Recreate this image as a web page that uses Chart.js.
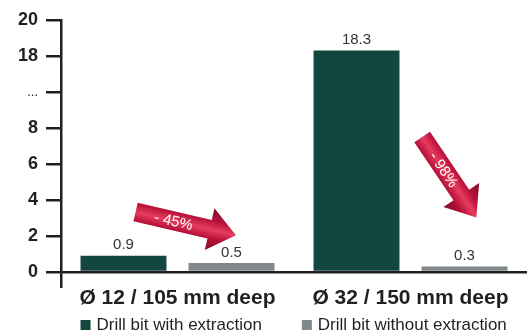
<!DOCTYPE html>
<html>
<head>
<meta charset="utf-8">
<script src="https://cdn.jsdelivr.net/npm/chart.js@4"></script>
<style>
  html, body { margin: 0; padding: 0; background: #fff; }
  canvas { display: block; }
</style>
</head>
<body>
<canvas id="chart" width="527" height="335"></canvas>
<script>
const categories = ['Ø 12 / 105 mm deep', 'Ø 32 / 150 mm deep'];
const seriesNames = ['Drill bit with extraction', 'Drill bit without extraction'];
const withExtraction = [0.9, 18.3];
const withoutExtraction = [0.5, 0.3];
const tickLabels = ['0', '2', '4', '6', '8', '...', '18', '20'];
const arrowNotes = [
    { text: '- 45%', cat: -0.18, u: 3.33, angle: 13, len: 103 },
    { text: '- 98%', cat: 1.05, u: 7.5, angle: 56, len: 97 }
];

const green = '#12463e';
const grey = '#80888b';
const ink = '#231f20';
const fontName = '"Liberation Sans", Arial, Helvetica, sans-serif';

// broken axis: 10..18 is squeezed into the "..." step
function toAxis(v) {
    return v > 10 ? v - 6 : v;
}

function drawArrow(ctx, x, y, note) {
    const bodyW = 19, headW = 43, headL = 27, len = note.len;
    ctx.save();
    ctx.translate(x, y);
    ctx.rotate(note.angle * Math.PI / 180);
    const g = ctx.createLinearGradient(0, -headW / 2, 0, headW / 2);
    g.addColorStop(0, '#7e0a28');
    g.addColorStop(0.3, '#b8123a');
    g.addColorStop(0.5, '#e63c5e');
    g.addColorStop(0.7, '#b8123a');
    g.addColorStop(1, '#7e0a28');
    ctx.fillStyle = g;
    ctx.beginPath();
    ctx.moveTo(0, -bodyW / 2);
    ctx.lineTo(len - headL, -bodyW / 2);
    ctx.lineTo(len - headL, -headW / 2);
    ctx.lineTo(len, 0);
    ctx.lineTo(len - headL, headW / 2);
    ctx.lineTo(len - headL, bodyW / 2);
    ctx.lineTo(0, bodyW / 2);
    ctx.closePath();
    ctx.fill();
    ctx.fillStyle = '#fff';
    ctx.font = '15px ' + fontName;
    ctx.textAlign = 'center';
    ctx.textBaseline = 'middle';
    ctx.fillText(note.text, 39, 1);
    ctx.restore();
}

const extras = {
    id: 'extras',
    afterDatasetsDraw(chart) {
        const ctx = chart.ctx;
        const values = [withExtraction, withoutExtraction];
        ctx.save();
        ctx.fillStyle = '#333';
        ctx.font = '15px ' + fontName;
        ctx.textAlign = 'center';
        ctx.textBaseline = 'bottom';
        values.forEach((vals, i) => {
            chart.getDatasetMeta(i).data.forEach((bar, j) => {
                ctx.fillText(vals[j].toString(), bar.x, bar.y - 3);
            });
        });
        ctx.restore();
    },
    afterDraw(chart) {
        const ctx = chart.ctx;
        const xs = chart.scales.x, ys = chart.scales.y;
        arrowNotes.forEach(n => {
            drawArrow(ctx, xs.getPixelForValue(n.cat), ys.getPixelForValue(n.u), n);
        });

        // legend
        const first = chart.getDatasetMeta(0).data[0];
        let x = first.x - first.width / 2;
        const y = chart.chartArea.bottom + 53;
        ctx.save();
        ctx.font = '17px ' + fontName;
        ctx.textBaseline = 'middle';
        ctx.fillStyle = ink;
        chart.data.datasets.forEach(ds => {
            ctx.fillStyle = ds.backgroundColor;
            ctx.fillRect(x, y - 5, 10, 10);
            ctx.fillStyle = ink;
            ctx.fillText(ds.label, x + 16, y);
            x += 16 + ctx.measureText(ds.label).width + 40;
        });
        ctx.restore();
    }
};

new Chart(document.getElementById('chart'), {
    type: 'bar',
    data: {
        labels: categories,
        datasets: [
            {
                label: seriesNames[0],
                data: withExtraction.map(toAxis),
                backgroundColor: green,
                barPercentage: 0.796,
                categoryPercentage: 0.927
            },
            {
                label: seriesNames[1],
                data: withoutExtraction.map(toAxis),
                backgroundColor: grey,
                barPercentage: 0.796,
                categoryPercentage: 0.927
            }
        ]
    },
    options: {
        responsive: false,
        animation: false,
        layout: { padding: { top: 20, right: 0, bottom: 0, left: 0 } },
        plugins: {
            legend: { display: false },
            tooltip: { enabled: false }
        },
        scales: {
            x: {
                afterFit(scale) { scale.height = 63; },
                border: { display: true, color: ink, width: 2.5 },
                grid: {
                    drawOnChartArea: false,
                    tickLength: 16,
                    lineWidth: 2.5,
                    color: c => c.index === 0 ? ink : 'rgba(0,0,0,0)'
                },
                ticks: {
                    color: ink,
                    padding: -2,
                    font: { family: fontName, size: 21, weight: 'bold' }
                }
            },
            y: {
                min: 0,
                max: 14,
                afterFit(scale) { scale.width = 61; },
                border: { display: true, color: ink, width: 2.5 },
                grid: {
                    drawOnChartArea: false,
                    tickLength: 15,
                    lineWidth: 2.5,
                    color: ink
                },
                ticks: {
                    stepSize: 2,
                    padding: 8,
                    color: ink,
                    callback: v => tickLabels[v / 2],
                    font: c => c.tick && c.tick.value === 10
                        ? { family: fontName, size: 13, weight: 'normal' }
                        : { family: fontName, size: 18, weight: 'bold' }
                }
            }
        }
    },
    plugins: [extras]
});
</script>
</body>
</html>
